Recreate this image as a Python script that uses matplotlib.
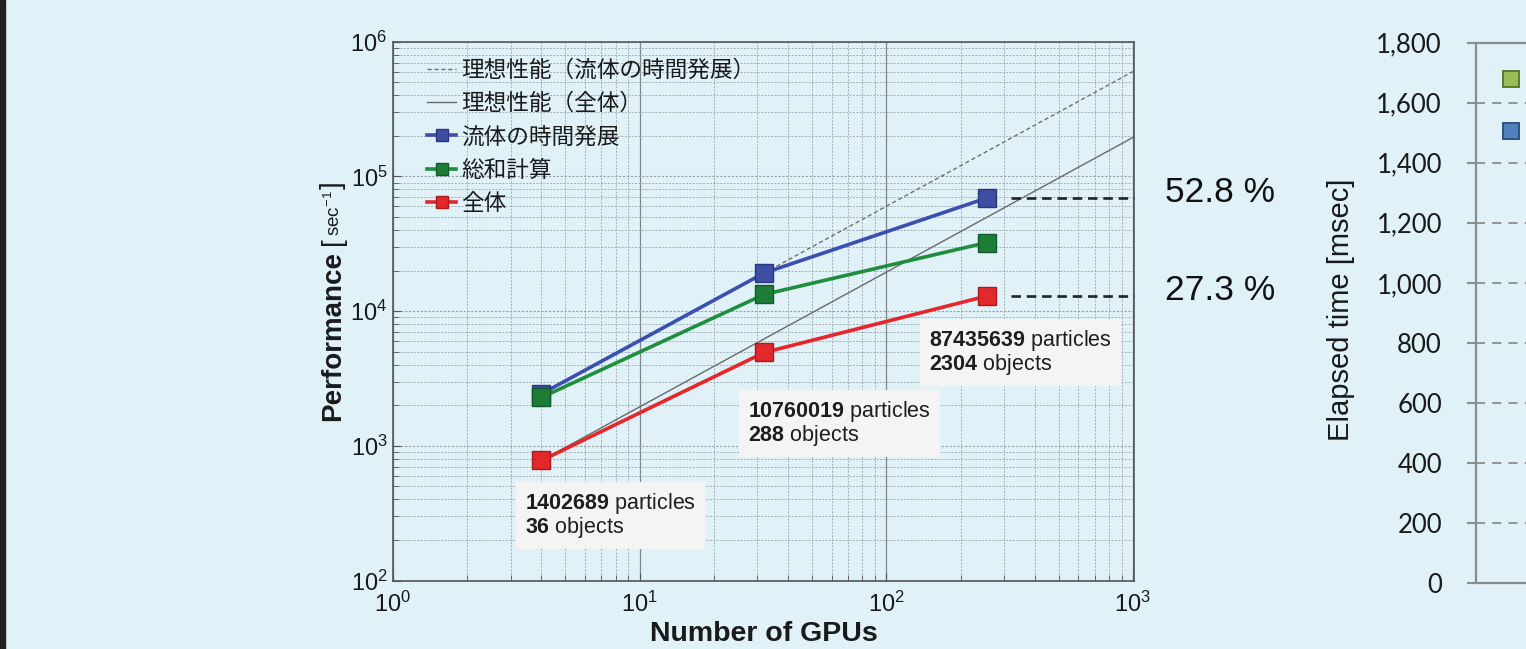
import matplotlib
matplotlib.use("Agg")
import matplotlib.pyplot as plt
from matplotlib.lines import Line2D
from matplotlib.patches import Rectangle
from matplotlib.ticker import LogLocator, FixedLocator, FuncFormatter, NullFormatter

# ---- data -------------------------------------------------------------
gpus = [4, 32, 256]
fluid_perf = [2430, 19200, 69200]      # 流体の時間発展
sum_perf = [2285, 13300, 32300]        # 総和計算
total_perf = [778, 4930, 12950]        # 全体
particles = [1402689, 10760019, 87435639]
objects = [36, 288, 2304]
series_labels = ["流体の時間発展", "総和計算", "全体"]
ideal_labels = ["理想性能（流体の時間発展）", "理想性能（全体）"]
efficiency_labels = ["52.8 %", "27.3 %"]
elapsed_ticks = [0, 200, 400, 600, 800, 1000, 1200, 1400, 1600, 1800]

# ---- style ------------------------------------------------------------
BG = "#e0f1f8"
W, H = 1526, 649
plt.rcParams["font.family"] = ["Liberation Sans", "Noto Sans CJK JP", "DejaVu Sans"]
plt.rcParams["mathtext.fontset"] = "custom"
plt.rcParams["mathtext.rm"] = "Liberation Sans"
plt.rcParams["mathtext.it"] = "Liberation Sans:italic"
plt.rcParams["mathtext.bf"] = "Liberation Sans:bold"

fig = plt.figure(figsize=(W / 100, H / 100), dpi=100, facecolor=BG)
renderer = fig.canvas.get_renderer()


def fx(x):
    return x / W


def fy(y):
    return 1 - y / H


# dark strip at the left edge of the slide
fig.add_artist(Rectangle((0, 0), fx(5), 1, transform=fig.transFigure,
                         color="#231f20", zorder=0))

# ---- main log-log performance chart -----------------------------------
ax = fig.add_axes([fx(393), fy(580.5), fx(1134) - fx(393), fy(41.7) - fy(580.5)])
ax.set_facecolor(BG)
ax.set_xscale("log")
ax.set_yscale("log")
xmin, xmax = 1, 1010
ax.set_xlim(xmin, xmax)
ax.set_ylim(1e2, 1e6)

ax.xaxis.set_major_locator(LogLocator(base=10, numticks=10))
ax.xaxis.set_minor_locator(LogLocator(base=10, subs=range(2, 10), numticks=20))
ax.yaxis.set_major_locator(LogLocator(base=10, numticks=10))
ax.yaxis.set_minor_locator(LogLocator(base=10, subs=range(2, 10), numticks=20))
ax.xaxis.set_minor_formatter(NullFormatter())
ax.yaxis.set_minor_formatter(NullFormatter())

ax.set_axisbelow(True)
ax.grid(which="minor", color="#a3aeb3", ls=(0, (2, 1.5)), lw=0.7)
ax.grid(which="major", axis="y", color="#96a0a5", ls=(0, (2, 1.5)), lw=0.8)
ax.grid(which="major", axis="x", color="#7f888c", ls="-", lw=0.9)

for sp in ax.spines.values():
    sp.set_color("#555555")
    sp.set_linewidth(1.2)
ax.tick_params(which="both", direction="in", color="#555555", labelcolor="#1a1a1a")
ax.tick_params(which="major", length=6, labelsize=17)
ax.tick_params(axis="y", which="major", pad=4)
ax.tick_params(axis="x", which="major", pad=8)
ax.tick_params(which="minor", length=4)

# ideal scaling lines (slope 1 from the reference points)
ax.plot([gpus[1], xmax], [fluid_perf[1], fluid_perf[1] * xmax / gpus[1]],
        color="#6f6f6f", lw=1.0, ls=(0, (3, 2)), zorder=2)
ax.plot([gpus[0], xmax], [total_perf[0], total_perf[0] * xmax / gpus[0]],
        color="#6a6a6a", lw=1.0, ls="-", zorder=2)

styles = [
    ("#3a4fb0", "#3d4ea3", "#28377f"),
    ("#1f8e3d", "#1e7c39", "#145a28"),
    ("#e5262b", "#e2282b", "#a81c1f"),
]
for vals, (lc, fc, ec) in zip([fluid_perf, sum_perf, total_perf], styles):
    ax.plot(gpus, vals, "-s", color=lc, mfc=fc, mec=ec, mew=1.0,
            ms=12.5, lw=2.6, zorder=4)

# efficiency markers to the right of the last points
for val in [fluid_perf[-1], total_perf[-1]]:
    ax.plot([gpus[-1] * 1.25, xmax], [val, val], color="#222222", lw=1.9,
            ls=(0, (3.6, 2.2)), clip_on=False, zorder=5)
for lab, ypx in zip(efficiency_labels, [193, 291]):
    fig.text(fx(1220), fy(ypx), lab, ha="center", va="center",
             fontsize=25.5, color="#111111")

# problem-size annotation boxes
box_corners = [(517, 483), (740, 391), (921, 320)]
for (bx, by), p, o in zip(box_corners, particles, objects):
    s = f"$\\mathbf{{{p}}}$ particles\n$\\mathbf{{{o}}}$ objects"
    fig.text(fx(bx + 8), fy(by + 8), s, ha="left", va="top", fontsize=15.5,
             color="#1e1e1e", linespacing=0.95,
             bbox=dict(boxstyle="square,pad=0.4", fc="#f3f4f3", ec="none"),
             zorder=6)

# legend
handles = [
    Line2D([], [], color="#6f6f6f", lw=1.0, ls=(0, (3, 2))),
    Line2D([], [], color="#6a6a6a", lw=1.0, ls="-"),
]
for lc, fc, ec in styles:
    handles.append(Line2D([], [], color=lc, mfc=fc, mec=ec, mew=1.0,
                          marker="s", ms=12.5, lw=2.6))
leg = ax.legend(handles, ideal_labels + series_labels, loc="upper left",
                bbox_to_anchor=(fx(427), fy(59)), bbox_transform=fig.transFigure,
                frameon=False, borderpad=0, borderaxespad=0,
                handlelength=1.3, handletextpad=0.2, labelspacing=0.45,
                markerscale=0.72,
                prop={"family": ["Noto Sans CJK JP", "DejaVu Sans"], "size": 16.3})
for t in leg.get_texts():
    t.set_color("#1a1a1a")

# axis labels
ax.set_xlabel("Number of GPUs", fontsize=20.5, fontweight="bold",
              color="#1a1a1a", labelpad=3)

pieces = [
    ("Performance", 20, "bold", 6),
    ("[", 20, "normal", 1),
    ("$\\mathregular{sec^{-1}}$", 13.5, "normal", 1),
    ("]", 20, "normal", 0),
]
ycur = 421
for s, size, weight, gap in pieces:
    t = fig.text(fx(340), fy(ycur), s, rotation=90, rotation_mode="anchor",
                 ha="left", va="baseline", fontsize=size, fontweight=weight,
                 color="#1a1a1a")
    bb = t.get_window_extent(renderer)
    ycur -= bb.height + gap

# ---- neighbouring elapsed-time chart (cut by the slide edge) ----------
ax2 = fig.add_axes([fx(1476), fy(583), 0.3, fy(42.7) - fy(583)])
ax2.set_facecolor(BG)
ax2.set_xlim(0, 1)
ax2.set_ylim(elapsed_ticks[0], elapsed_ticks[-1])
ax2.yaxis.set_major_locator(FixedLocator(elapsed_ticks))
ax2.yaxis.set_major_formatter(FuncFormatter(lambda v, _: f"{v:,.0f}"))
ax2.set_xticks([])
gcol = "#8c8c8c"
for name, sp in ax2.spines.items():
    sp.set_color(gcol)
    sp.set_linewidth(1.6)
ax2.spines["right"].set_visible(False)
ax2.tick_params(axis="y", direction="out", length=6.5, width=1.5, color=gcol,
                pad=18, labelsize=18.5, labelcolor="#1a1a1a")
for t in ax2.get_yticklabels():
    t.set_family("Lato")
ax2.grid(axis="y", color=gcol, lw=1.3, ls=(0, (5, 4)))
ax2.set_axisbelow(True)
ax2.set_ylabel("Elapsed time [msec]", fontsize=21, color="#1a1a1a")
ax2.yaxis.set_label_coords(fx(1355), fy(310), transform=fig.transFigure)

key_handles = [
    Line2D([], [], ls="none", marker="s", ms=12, mfc="#9bbb59", mec="#5e7a2e", mew=1.4),
    Line2D([], [], ls="none", marker="s", ms=12, mfc="#4f81bd", mec="#2d5183", mew=1.4),
]
ax2.legend(key_handles, ["", ""], loc="upper left",
           bbox_to_anchor=(fx(1499), fy(70)), bbox_transform=fig.transFigure,
           frameon=False, borderpad=0, borderaxespad=0, handlelength=1.0,
           handletextpad=0.2, labelspacing=1.28, prop={"size": 17})

fig.savefig("out.png", dpi=100, facecolor=BG)
